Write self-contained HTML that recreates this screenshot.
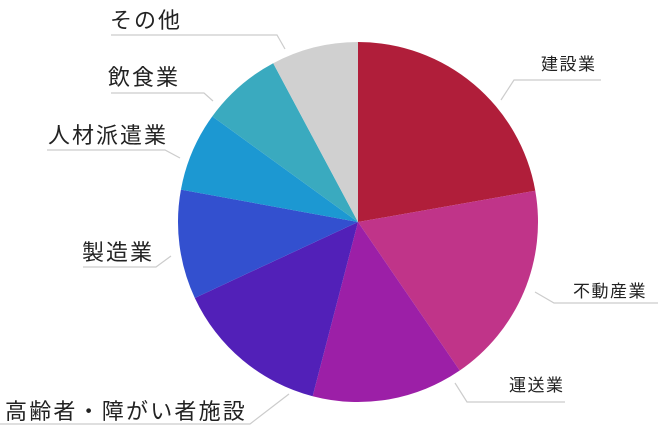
<!DOCTYPE html>
<html><head><meta charset="utf-8"><style>
body{margin:0;background:#fff;width:659px;height:427px;overflow:hidden}
text{font-family:"Liberation Sans","Noto Sans CJK JP",sans-serif;fill:#222}
</style></head><body>
<svg id="chart" width="659" height="427" viewBox="0 0 659 427"></svg>
<script>
const categories=["建設業","不動産業","運送業","高齢者・障がい者施設","製造業","人材派遣業","飲食業","その他"];
const values=[22.2,18.2,13.6,14.0,9.8,7.1,7.2,7.8];
const colors=["#b01e3a","#c03489","#9c1fa7","#5220b8","#3350cf","#1c98d2","#3aaabf","#d0d0d0"];
const labelPos=[[541,70,17,1.5],[573,297,17,1.5],[509,391,17,1.5],[5,419,22,2.2],[82,260,22,2],[48,143,22,2],[108,85,22,2],[110,28,22,2]];
const leaders=[
 [[501,100],[514,80],[601,80]],
 [[535,292],[554,303],[658,303]],
 [[455,383],[467,402],[565,402]],
 [[289,394],[250,424],[0,424]],
 [[171,256],[156,267],[83,267]],
 [[180,158],[165,150],[47,150]],
 [[213,101],[204,93],[111,93]],
 [[285,49],[277,35],[111,35]]];
const svg=document.getElementById('chart');
const NS="http://www.w3.org/2000/svg";
const cx=358,cy=222,r=180;
const total=values.reduce((a,b)=>a+b,0);
function pt(a,rr){return [cx+rr*Math.sin(a),cy-rr*Math.cos(a)];}
let acc=0;
values.forEach((v,i)=>{
  const a0=acc/total*2*Math.PI;acc+=v;const a1=acc/total*2*Math.PI;
  const p0=pt(a0,r),p1=pt(a1,r);
  const p=document.createElementNS(NS,'path');
  p.setAttribute('d',`M${cx},${cy}L${p0[0]},${p0[1]}A${r},${r} 0 ${a1-a0>Math.PI?1:0} 1 ${p1[0]},${p1[1]}Z`);
  p.setAttribute('fill',colors[i]);
  
  
  svg.appendChild(p);
  const pl=document.createElementNS(NS,'polyline');
  pl.setAttribute('points',leaders[i].map(q=>q.join(',')).join(' '));
  pl.setAttribute('fill','none');pl.setAttribute('stroke','#ccc');pl.setAttribute('stroke-width','1.2');
  
  
  svg.appendChild(pl);
  const t=document.createElementNS(NS,'text');
  const lp=labelPos[i];
  t.setAttribute('x',lp[0]);t.setAttribute('y',lp[1]);
  t.setAttribute('font-size',lp[2]);
  t.setAttribute('letter-spacing',lp[3]);
  t.textContent=categories[i];
  
  
  svg.appendChild(t);
});
</script>
</body></html>
